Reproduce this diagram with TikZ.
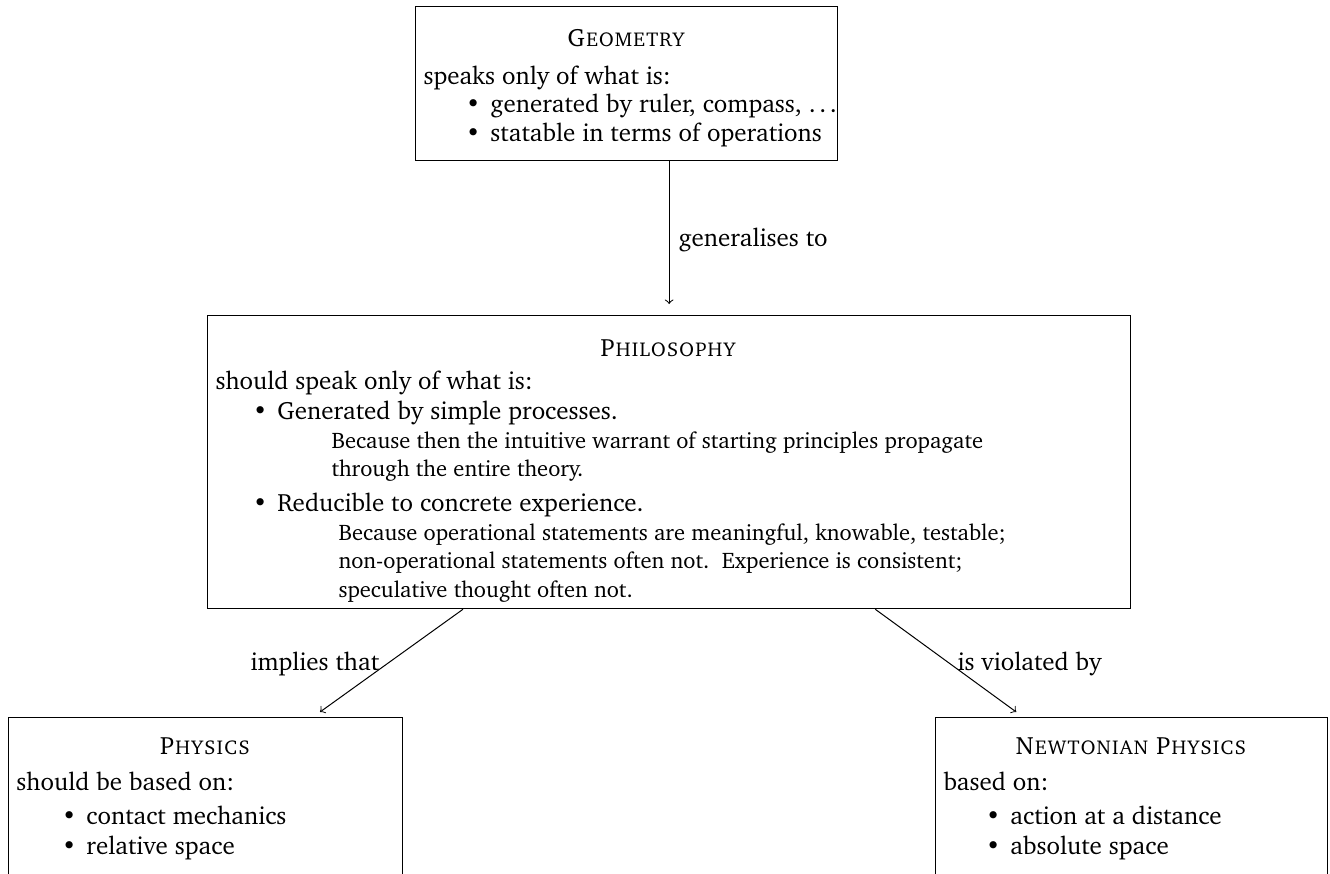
\documentclass[tikz,border=0pt]{standalone}
\usepackage[T1]{fontenc}
\usepackage{textcomp}
\usepackage{charter}
\usetikzlibrary{calc}
\newcommand\bul{\llap{\textbullet\hspace{4pt}}}
\newcommand\mydots{.\kern1.4pt.\kern1.4pt.}
\tikzset{
  box/.style={draw, line width=0.5pt, rectangle, anchor=north west, inner sep=0pt},
  tx/.style={anchor=base west, inner sep=0pt, font=\fontsize{10}{12}\selectfont},
  sm/.style={anchor=base west, inner sep=0pt, font=\fontsize{9}{11}\selectfont},
  ttl/.style={anchor=base, inner sep=0pt, font=\fontsize{10}{12}\selectfont\scshape},
  lbl/.style={anchor=base west, inner sep=0pt, font=\fontsize{10}{12}\selectfont},
  conn/.style={->, line width=0.4pt}
}
\begin{document}
\begin{tikzpicture}[x=0.4pt,y=-0.4pt]
\useasboundingbox (0,0) rectangle (1330,873);
\clip (0,0) rectangle (1330,873);
% boxes
\node[box, minimum width=168.8pt, minimum height=61.6pt] (geo) at (415,6) {};
\node[box, minimum width=369.2pt, minimum height=117.2pt] (phil) at (207,315) {};
\node[box, minimum width=157.6pt, minimum height=80pt] (phys) at (8,717) {};
\node[box, minimum width=156.8pt, minimum height=80pt] (newt) at (935,717) {};
% Geometry
\node[ttl] (gt) at (626,46) {Geometry};
\node[tx] (g1) at (423,84) {speaks only of what is:};
\node[tx] (g2) at (490,112) {\bul generated by ruler, compass, \mydots};
\node[tx] (g3) at (490,141) {\bul statable in terms of operations};
% Philosophy
\node[ttl] (pt) at (668,356) {Philosophy};
\node[tx] (p1) at (215,389) {should speak only of what is:};
\node[tx] (p2) at (277,419) {\bul Generated by simple processes.};
\node[sm] (p3) at (331,448) {Because then the intuitive warrant of starting principles propagate};
\node[sm] (p4) at (331,476) {through the entire theory.};
\node[tx] (p5) at (277,511) {\bul Reducible to concrete experience.};
\node[sm] (p6) at (338,540) {Because operational statements are meaningful, knowable, testable;};
\node[sm] (p7) at (338,568) {non-operational statements often not.\ \ Experience is consistent;};
\node[sm] (p8) at (338,597) {speculative thought often not.};
% Physics
\node[ttl] (yt) at (205,754) {Physics};
\node[tx] (y1) at (16,790) {should be based on:};
\node[tx] (y2) at (86,824) {\bul contact mechanics};
\node[tx] (y3) at (86,854) {\bul relative space};
% Newtonian physics
\node[ttl] (nt) at (1131,754) {Newtonian Physics};
\node[tx] (n1) at (943,790) {based on:};
\node[tx] (n2) at (1010,824) {\bul action at a distance};
\node[tx] (n3) at (1010,854) {\bul absolute space};
% connectors
\coordinate (a0) at (geo.south -| phil.north);
\coordinate (a1) at ($(phil.north)+(0,-11)$);
\draw[conn] (a0) -- (a1);
\node[lbl] (l1) at (678,246) {generalises to};
\coordinate (b0) at ($(phil.south west)+(256,0)$);
\coordinate (b1) at ($(phys.north west)+(312,-5)$);
\draw[conn] (b0) -- (b1);
\node[lbl] (l2) at (250,670) {implies that};
\coordinate (c0) at ($(phil.south east)+(-256,0)$);
\coordinate (c1) at ($(newt.north east)+(-312,-5)$);
\draw[conn] (c0) -- (c1);
\node[lbl] (l3) at (957,670) {is violated by};
\end{tikzpicture}
\end{document}
